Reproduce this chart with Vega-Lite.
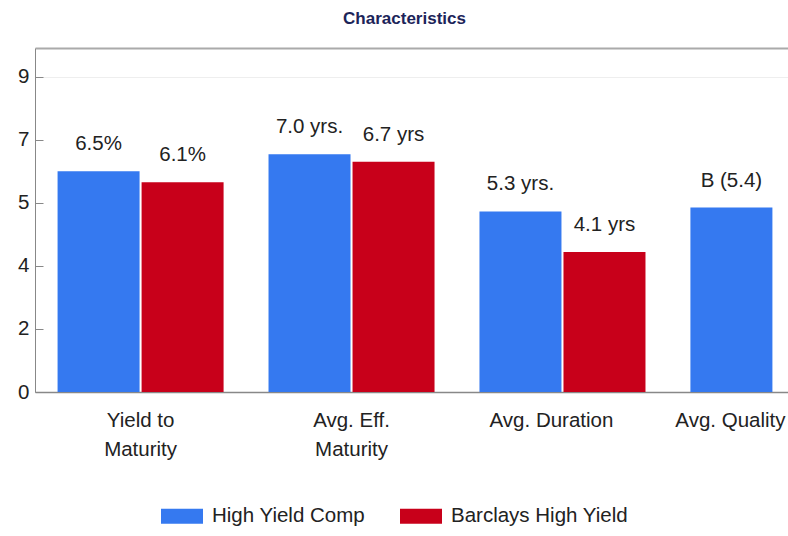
{
  "$schema": "https://vega.github.io/schema/vega-lite/v6.json",
  "width": 753,
  "height": 344,
  "autosize": {"type": "none"},
  "padding": {"left": 35, "top": 48, "right": 0, "bottom": 144},
  "background": "white",
  "config": {"font": "Liberation Sans", "view": {"stroke": null}},
  "title": {"text": "Characteristics", "fontSize": 17, "fontWeight": "bold", "color": "#1c2459", "anchor": "middle", "dx": -7, "offset": 20, "dy": 13, "baseline": "alphabetic"},
  "data": {"values": [
    {"category": "Yield to Maturity", "series": "High Yield Comp", "value": 6.31, "label": "6.5%"},
    {"category": "Yield to Maturity", "series": "Barclays High Yield", "value": 5.99, "label": "6.1%"},
    {"category": "Avg. Eff. Maturity", "series": "High Yield Comp", "value": 6.79, "label": "7.0 yrs."},
    {"category": "Avg. Eff. Maturity", "series": "Barclays High Yield", "value": 6.58, "label": "6.7 yrs"},
    {"category": "Avg. Duration", "series": "High Yield Comp", "value": 5.16, "label": "5.3 yrs."},
    {"category": "Avg. Duration", "series": "Barclays High Yield", "value": 4.0, "label": "4.1 yrs"},
    {"category": "Avg. Quality", "series": "High Yield Comp", "value": 5.27, "label": "B (5.4)"}
  ]},
  "resolve": {"axis": {"x": "independent"}},
  "layer": [
    {
      "mark": {"type": "bar"},
      "encoding": {
        "x": {"field": "category", "type": "nominal",
          "scale": {"domain": ["Yield to Maturity", "Avg. Eff. Maturity", "Avg. Duration", "Avg. Quality"], "range": [0, 844], "paddingInner": 0.213, "paddingOuter": 0.107},
          "axis": {"orient": "bottom", "title": null, "ticks": false, "domainColor": "#888", "domainWidth": 1.5, "labelFontSize": 20.5, "labelColor": "#222", "labelPadding": 18, "labelAngle": 0, "labelLineHeight": 29, "labelOverlap": false, "labelBound": false,
            "labelExpr": "datum.value == 'Yield to Maturity' ? ['Yield to', 'Maturity'] : datum.value == 'Avg. Eff. Maturity' ? ['Avg. Eff.', 'Maturity'] : datum.value",
            "labelOffset": {"condition": [{"test": "datum.value == 'Avg. Duration'", "value": -11}, {"test": "datum.value == 'Avg. Quality'", "value": -43}], "value": 0}}},
        "xOffset": {"field": "series", "type": "nominal", "scale": {"domain": ["High Yield Comp", "Barclays High Yield"], "paddingInner": 0.024, "paddingOuter": 0}},
        "y": {"field": "value", "type": "quantitative",
          "scale": {"domain": [0, 9.828], "nice": false, "zero": true},
          "axis": {"title": null, "values": [0, 1.8, 3.6, 5.4, 7.2, 9], "format": ".0f", "labelFontSize": 20.5, "labelColor": "#222", "domainColor": "#888", "tickColor": "#888", "tickSize": -8, "labelPadding": 14,
            "grid": true, "gridColor": "#eeeeee", "gridOpacity": {"condition": {"test": "datum.value >= 9", "value": 1}, "value": 0}}},
        "color": {"field": "series", "type": "nominal",
          "scale": {"domain": ["High Yield Comp", "Barclays High Yield"], "range": ["#3579F0", "#C8001A"]},
          "legend": {"title": null, "orient": "none", "legendX": 126, "legendY": 447, "direction": "horizontal", "symbolType": "M-1,-0.357H1V0.357H-1Z", "symbolSize": 1764, "symbolStrokeWidth": 0, "symbolOpacity": 1, "labelFontSize": 20.5, "labelColor": "#222", "labelOffset": 9, "columnPadding": 34, "labelLimit": 300}}
      }
    },
    {
      "mark": {"type": "text", "baseline": "alphabetic", "align": "center", "dy": -21, "fontSize": 20.5, "color": "#222"},
      "encoding": {
        "x": {"field": "category", "type": "nominal",
          "scale": {"domain": ["Yield to Maturity", "Avg. Eff. Maturity", "Avg. Duration", "Avg. Quality"], "range": [0, 844], "paddingInner": 0.213, "paddingOuter": 0.107},
          "axis": {"orient": "top", "title": null, "ticks": false, "labels": false, "domainColor": "#aaa", "domainWidth": 2}},
        "xOffset": {"field": "series", "type": "nominal", "scale": {"domain": ["High Yield Comp", "Barclays High Yield"], "paddingInner": 0.024, "paddingOuter": 0}},
        "y": {"field": "value", "type": "quantitative"},
        "text": {"field": "label", "type": "nominal"}
      }
    }
  ]
}
